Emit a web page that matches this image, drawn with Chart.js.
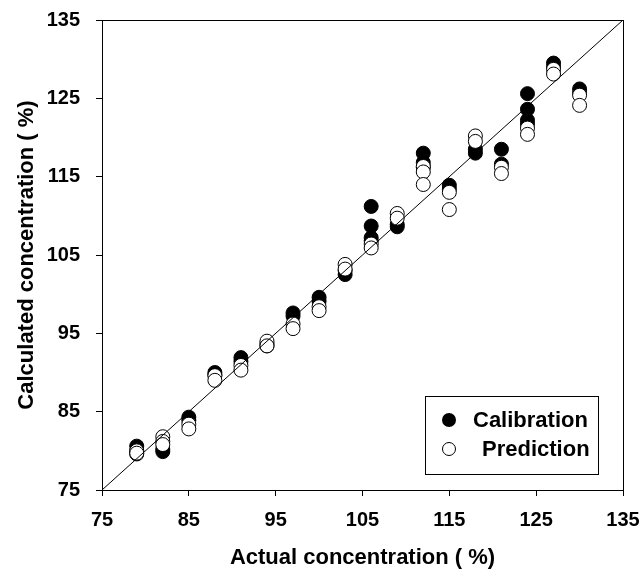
<!DOCTYPE html>
<html>
<head>
<meta charset="utf-8">
<script src="https://cdn.jsdelivr.net/npm/chart.js@4"></script>
<style>
  html, body { margin: 0; padding: 0; background: #fff; }
  canvas { display: block; }
</style>
</head>
<body>
<canvas id="scatter" width="642" height="571"></canvas>
<script>
  // actual concentration levels (%)
  const calX = [79, 79, 79, 82, 82, 85, 85, 88, 88, 91, 91, 94, 94, 97, 97, 100, 100, 103, 103,
    106, 106, 106, 106, 109, 109, 112, 112, 112, 115, 115, 118, 118, 121, 121,
    124, 124, 124, 124, 127, 127, 130, 130];
  const calY = [80.6, 80.0, 79.6, 80.2, 79.9, 84.3, 83.9, 90.0, 89.7, 91.9, 91.4, 93.7, 93.4, 97.6, 97.2, 99.6, 99.1, 103.0, 102.5,
    111.2, 108.7, 107.2, 106.8, 108.9, 108.6, 118.0, 116.8, 116.2, 113.9, 113.4, 118.5, 118.0, 118.5, 116.6,
    125.6, 123.6, 122.2, 121.7, 129.5, 129.0, 126.2, 125.7];

  const predX = [79, 79, 82, 82, 82, 85, 85, 88, 88, 91, 91, 94, 94, 97, 97, 100, 100, 103, 103,
    106, 106, 109, 109, 112, 112, 112, 115, 115, 118, 118, 121, 121,
    124, 124, 127, 127, 130, 130];
  const predY = [80.0, 79.7, 81.8, 81.2, 80.8, 83.4, 82.8, 89.6, 89.0, 90.9, 90.3, 94.0, 93.4, 96.2, 95.6, 98.4, 97.9, 103.8, 103.2,
    106.4, 105.9, 110.3, 109.7, 116.3, 115.6, 114.0, 113.0, 110.8, 120.2, 119.5, 116.2, 115.4,
    121.2, 120.4, 128.7, 128.1, 125.4, 124.1];

  const axisMin = 75, axisMax = 135, axisStep = 10;
  const legendLabels = ['Calibration', 'Prediction'];

  const FONT = '"Liberation Sans", Arial, sans-serif';

  const toPoints = (xs, ys) => xs.map((x, i) => ({ x: x, y: ys[i] }));

  // frame round the plot + legend box inside the plot
  const framePlugin = {
    id: 'frame',
    afterDraw(chart) {
      const { ctx, chartArea: a } = chart;
      ctx.save();
      ctx.strokeStyle = '#000';
      ctx.lineWidth = 1;
      ctx.strokeRect(a.left + 0.5, a.top + 0.5, a.right - a.left, a.bottom - a.top);

      const w = 173, h = 78;
      const bx = a.right - 25 - w, by = a.bottom - 16 - h;
      ctx.fillStyle = '#fff';
      ctx.fillRect(bx, by, w, h);
      ctx.strokeRect(bx + 0.5, by + 0.5, w, h);

      ctx.font = 'bold 22px ' + FONT;
      ctx.textBaseline = 'middle';
      ctx.fillStyle = '#000';
      // calibration
      ctx.beginPath();
      ctx.arc(bx + 24, by + 24, 7, 0, Math.PI * 2);
      ctx.fill();
      ctx.fillText(legendLabels[0], bx + 48, by + 25);
      // prediction
      ctx.beginPath();
      ctx.arc(bx + 24, by + 53, 6.5, 0, Math.PI * 2);
      ctx.fillStyle = '#fff';
      ctx.fill();
      ctx.stroke();
      ctx.fillStyle = '#000';
      ctx.fillText(legendLabels[1], bx + 57, by + 54);
      ctx.restore();
    }
  };

  new Chart(document.getElementById('scatter'), {
    type: 'scatter',
    data: {
      datasets: [
        {
          type: 'line',
          label: 'y = x',
          data: [{ x: axisMin, y: axisMin }, { x: axisMax, y: axisMax }],
          borderColor: '#000',
          borderWidth: 1,
          pointRadius: 0,
          order: 0
        },
        {
          label: legendLabels[1],
          data: toPoints(predX, predY),
          pointRadius: 7,
          pointBackgroundColor: '#fff',
          pointBorderColor: '#000',
          pointBorderWidth: 1,
          order: 1
        },
        {
          label: legendLabels[0],
          data: toPoints(calX, calY),
          pointRadius: 7,
          pointBackgroundColor: '#000',
          pointBorderColor: '#000',
          pointBorderWidth: 1,
          order: 2
        }
      ]
    },
    options: {
      responsive: false,
      animation: false,
      layout: { padding: { top: 20, right: 19, left: 0, bottom: 0 } },
      plugins: {
        legend: { display: false },
        tooltip: { enabled: false }
      },
      scales: {
        x: {
          type: 'linear',
          min: axisMin,
          max: axisMax,
          afterFit(scale) {
            scale.height = 81;
            scale.paddingLeft = 0;
            scale.paddingRight = 0;
          },
          ticks: {
            stepSize: axisStep,
            color: '#000',
            padding: 12,
            font: { family: FONT, size: 20, weight: 'bold' }
          },
          grid: { drawOnChartArea: false, tickLength: 6, color: '#000' },
          border: { color: '#000', width: 1 },
          title: {
            display: true,
            text: 'Actual concentration ( %)',
            color: '#000',
            padding: { top: 0, bottom: 0 },
            font: { family: FONT, size: 22, weight: 'bold' }
          }
        },
        y: {
          type: 'linear',
          min: axisMin,
          max: axisMax,
          afterFit(scale) {
            scale.width = 102;
            scale.paddingTop = 0;
            scale.paddingBottom = 0;
          },
          ticks: {
            stepSize: axisStep,
            color: '#000',
            padding: 16,
            font: { family: FONT, size: 20, weight: 'bold' }
          },
          grid: { drawOnChartArea: false, tickLength: 6, color: '#000' },
          border: { color: '#000', width: 1 },
          title: {
            display: true,
            text: 'Calculated concentration ( %)',
            color: '#000',
            padding: { top: 14, bottom: 0 },
            font: { family: FONT, size: 22, weight: 'bold' }
          }
        }
      }
    },
    plugins: [framePlugin]
  });
</script>
</body>
</html>
